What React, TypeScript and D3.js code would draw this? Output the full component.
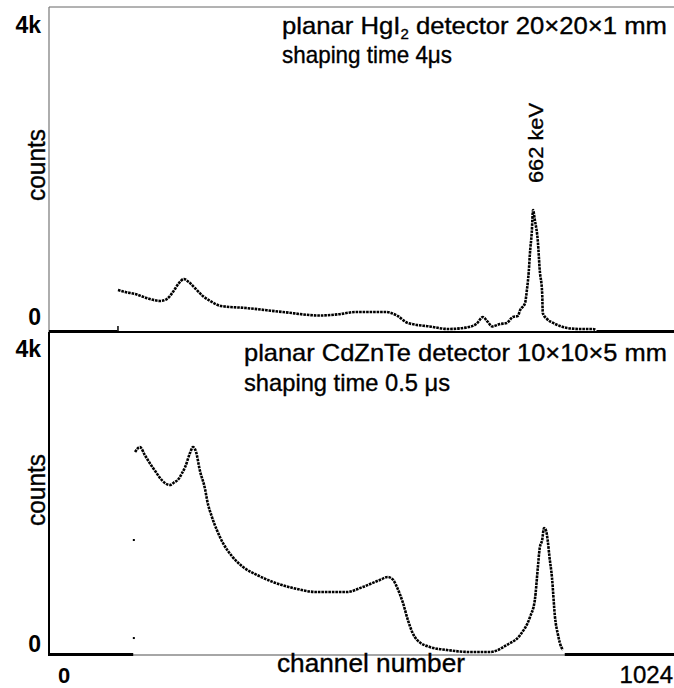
import React from "react";
import * as d3 from "d3";

// HgI2 spectrum (top panel)
const hgChannels = [0, 112, 113, 125, 141, 165, 182, 193, 203, 213, 221, 229, 239, 252, 264, 282, 323, 383, 444, 473, 503, 552, 570, 588, 624, 654, 683, 700, 711, 719, 726, 739, 750, 760, 768, 772, 780, 783, 786, 788, 791, 793, 796, 801, 804, 808, 809, 816, 826, 837, 849, 870, 891, 896, 897, 1024];
const hgCounts = [0, 0, 517, 492, 468, 406, 382, 406, 492, 603, 652, 615, 542, 443, 382, 320, 295, 246, 203, 217, 246, 246, 203, 111, 68, 37, 54, 98, 185, 123, 68, 98, 111, 185, 197, 271, 357, 517, 739, 972, 1231, 1502, 1379, 1108, 763, 480, 234, 160, 111, 74, 49, 37, 37, 25, 0, 0];

// CdZnTe spectrum (bottom panel)
const czChannels = [0, 138, 141, 149, 157, 165, 174, 182, 190, 198, 206, 211, 218, 223, 231, 236, 241, 247, 256, 259, 267, 275, 285, 301, 318, 341, 367, 400, 439, 488, 514, 542, 555, 564, 570, 580, 588, 595, 603, 624, 652, 690, 723, 750, 772, 788, 796, 801, 804, 808, 811, 814, 817, 820, 824, 829, 834, 837, 842, 845, 1024];
const czCounts = [0, 0, 2513, 2575, 2476, 2377, 2278, 2191, 2129, 2105, 2142, 2167, 2253, 2327, 2501, 2575, 2513, 2290, 2043, 1919, 1708, 1548, 1387, 1213, 1089, 990, 904, 829, 780, 780, 842, 929, 966, 929, 842, 644, 433, 285, 186, 99, 62, 37, 37, 124, 248, 470, 681, 1089, 1325, 1424, 1572, 1548, 1424, 1213, 966, 470, 248, 149, 62, 0, 0];
// isolated points on the rising edge of the CdZnTe spectrum
const czEdgeChannels = [139, 139];
const czEdgeCounts = [210, 1424];

const yTickLabels = ["0", "4k"];
const yTickValues = [0, 4000];
const xTickLabels = ["0", "1024"];
const xTickValues = [0, 1024];

const W = 674;
const H = 688;
const X0 = 49;
const X1 = 674;
const TOP0 = 7;
const MID = 332;
const BOT = 655;

const FONT = "Liberation Sans, Arial, Helvetica, sans-serif";

type Pt = { c: number; v: number };

function toPts(ch: number[], ct: number[]): Pt[] {
  return ch.map((c, i) => ({ c, v: ct[i] }));
}

function zeroRuns(pts: Pt[]): [number, number][] {
  const runs: [number, number][] = [];
  let start: number | null = null;
  for (let i = 0; i < pts.length; i++) {
    if (pts[i].v === 0) {
      if (start === null) start = pts[i].c;
      if (i === pts.length - 1 || pts[i + 1].v !== 0) {
        runs.push([start, pts[i].c]);
        start = null;
      }
    }
  }
  return runs;
}

function Spectrum({ pts, y, x }: { pts: Pt[]; y: d3.ScaleLinear<number, number>; x: d3.ScaleLinear<number, number> }) {
  const line = d3
    .line<Pt>()
    .x((d) => x(d.c))
    .y((d) => y(d.v))
    .curve(d3.curveMonotoneX);
  const runs = zeroRuns(pts);
  return (
    <g>
      <path d={line(pts.filter((p) => p.v !== 0)) || ""} fill="none" stroke="#000" strokeWidth={2.6} strokeDasharray="2.6 0.9" />
      {runs.map(([a, b], i) => (
        <line key={i} x1={x(a)} x2={x(b)} y1={y(0) - 0.5} y2={y(0) - 0.5} stroke="#000" strokeWidth={3.2} />
      ))}
    </g>
  );
}

const txt = { fill: "#000", stroke: "#000", strokeWidth: 0.35 };

export default function App() {
  const x = d3.scaleLinear().domain([0, 1024]).range([X0, X1]);
  const yTop = d3.scaleLinear().domain([0, 4000]).range([MID, TOP0]);
  const yBot = d3.scaleLinear().domain([0, 4000]).range([BOT, MID]);
  const hg = toPts(hgChannels, hgCounts);
  const cz = toPts(czChannels, czCounts);

  return (
    <svg width={W} height={H} style={{ position: "absolute", left: 0, top: 0, background: "#fff" }} fontFamily={FONT}>
      <rect x={0} y={0} width={W} height={H} fill="#fff" />
      {/* frame */}
      <line x1={X0} x2={X1} y1={TOP0} y2={TOP0} stroke="#666" strokeWidth={1} />
      <line x1={X0} x2={X0} y1={TOP0} y2={MID} stroke="#777" strokeWidth={1.2} />
      <line x1={X0} x2={X0} y1={MID} y2={BOT + 1} stroke="#000" strokeWidth={2} />
      <line x1={X0} x2={X1} y1={MID} y2={MID} stroke="#000" strokeWidth={2} />
      <line x1={X0} x2={X1} y1={BOT} y2={BOT} stroke="#888" strokeWidth={1.5} />

      {/* spectra */}
      <Spectrum pts={hg} y={yTop} x={x} />
      <Spectrum pts={cz} y={yBot} x={x} />
      {czEdgeChannels.map((c, i) => (
        <rect key={"e" + i} x={x(c) - 1} y={yBot(czEdgeCounts[i]) - 1} width={2} height={2} fill="#000" />
      ))}
      <line x1={x(hgChannels[2])} x2={x(hgChannels[2])} y1={MID - 1} y2={MID - 6} stroke="#000" strokeWidth={1.5} />

      {/* y tick labels */}
      {yTickValues.map((v, i) => (
        <text key={"t" + i} x={41} y={yTop(v) + (v === 0 ? -7 : 26)} textAnchor="end" fontSize={23} fontWeight="bold">
          {yTickLabels[i]}
        </text>
      ))}
      {yTickValues.map((v, i) => (
        <text key={"b" + i} x={41} y={yBot(v) + (v === 0 ? -3 : 25)} textAnchor="end" fontSize={23} fontWeight="bold">
          {yTickLabels[i]}
        </text>
      ))}

      {/* x tick labels */}
      {xTickValues.map((v, i) => (
        <text
          key={"x" + i}
          x={i === 0 ? x(v) + 15 : x(v) - 1}
          y={683}
          textAnchor={i === 0 ? "middle" : "end"}
          fontSize={i === 0 ? 22 : 24}
          fontWeight={i === 0 ? "bold" : "normal"}
          {...(i === 0 ? {} : txt)}
        >
          {xTickLabels[i]}
        </text>
      ))}
      <text x={371} y={672} textAnchor="middle" fontSize={25} textLength={188} lengthAdjust="spacingAndGlyphs" {...txt}>
        channel number
      </text>

      {/* axis titles */}
      <text transform={`translate(45,165) rotate(-90)`} textAnchor="middle" fontSize={25} textLength={72} lengthAdjust="spacingAndGlyphs" {...txt}>
        counts
      </text>
      <text transform={`translate(45,490) rotate(-90)`} textAnchor="middle" fontSize={25} textLength={72} lengthAdjust="spacingAndGlyphs" {...txt}>
        counts
      </text>

      {/* panel titles */}
      <text x={282} y={34} fontSize={24} {...txt} textLength={385} lengthAdjust="spacingAndGlyphs">
        planar HgI<tspan fontSize={14} dy={5}>2</tspan>
        <tspan dy={-5}> detector 20×20×1 mm</tspan>
      </text>
      <text x={282} y={63} fontSize={24} textLength={170} lengthAdjust="spacingAndGlyphs" {...txt}>
        shaping time 4μs
      </text>
      <text x={244} y={361} fontSize={24} textLength={423} lengthAdjust="spacingAndGlyphs" {...txt}>
        planar CdZnTe detector 10×10×5 mm
      </text>
      <text x={244} y={391} fontSize={24} textLength={206} lengthAdjust="spacingAndGlyphs" {...txt}>
        shaping time 0.5 μs
      </text>

      {/* peak label */}
      <text transform={`translate(543,143) rotate(-90)`} textAnchor="middle" fontSize={21} textLength={80} lengthAdjust="spacingAndGlyphs" {...txt}>
        662 keV
      </text>
    </svg>
  );
}
